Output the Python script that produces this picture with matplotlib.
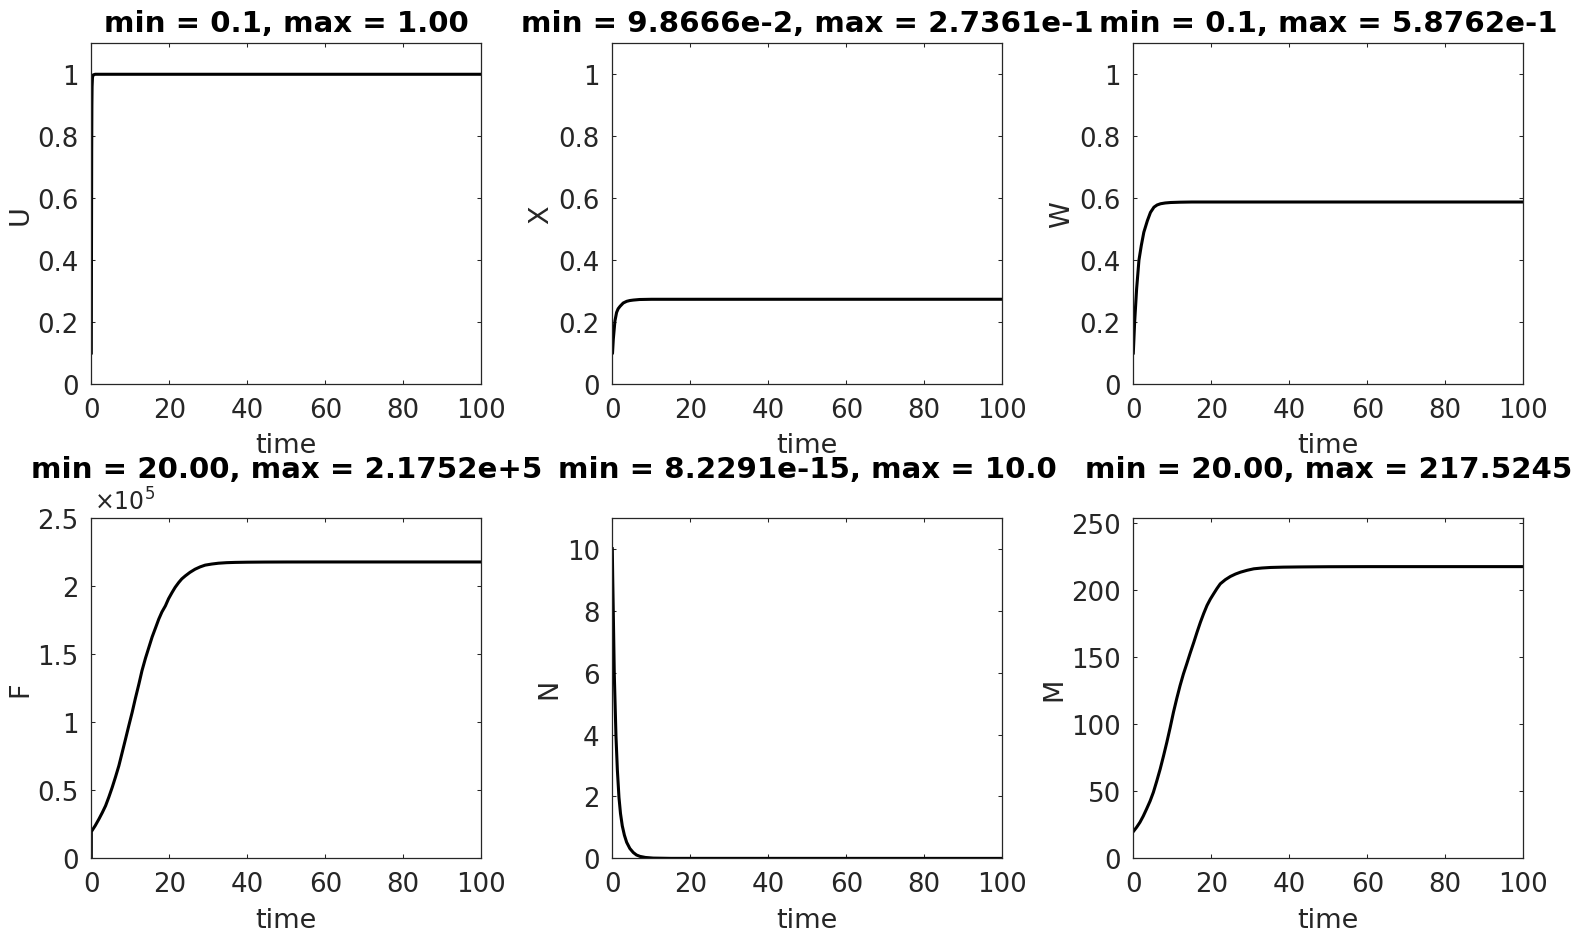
import matplotlib
matplotlib.use("Agg")
import matplotlib.pyplot as plt
from matplotlib.ticker import FuncFormatter, MultipleLocator

plt.rcParams['font.family'] = ['DejaVu Sans']
plt.rcParams['mathtext.fontset'] = 'dejavusans'

# ---------------- data ----------------
t_U = [0, 0.05, 0.1, 0.15, 0.2, 0.3, 0.5, 1, 100]
U = [0.1, 0.45, 0.75, 0.9, 0.96, 0.99, 0.998, 1.0, 1.0]

t_X = [0, 0.05, 0.26, 0.68, 1.1, 1.5, 2.0, 2.8, 3.7, 4.5, 5.4, 7, 10, 100]
X = [0.1, 0.0987, 0.145, 0.204, 0.231, 0.243, 0.251, 0.2615, 0.267, 0.2695,
     0.271, 0.2728, 0.2735, 0.2736]

t_W = [0, 0.34, 0.85, 1.45, 2.05, 2.7, 3.6, 4.4, 5.3, 6.1, 7.0, 8.2, 9.6, 12, 15, 100]
W = [0.1, 0.199, 0.307, 0.400, 0.447, 0.49, 0.527, 0.554, 0.571, 0.578, 0.582,
     0.5845, 0.586, 0.587, 0.5876, 0.5876]

t_F = [0, 0.01, 1.0, 1.96, 2.8, 3.66, 4.5, 5.36, 6.2, 7.07, 7.9, 8.77, 9.6, 10.47,
       11.3, 12.2, 13.0, 13.9, 14.8, 15.6, 16.5, 17.3, 18.1, 19.0, 19.8, 20.7,
       21.5, 22.4, 23.2, 24.1, 25.3, 26.6, 27.9, 29.2, 30.9, 32.6, 34.7, 36.9,
       40.0, 44.5, 50, 60, 100]
F = [20, 19600, 24000, 28900, 33500, 38600, 45000, 52100, 59700, 68000, 77500,
     87500, 97200, 107100, 117400, 127900, 137800, 147000, 155200, 162500,
     169400, 175600, 180800, 185300, 190500, 195100, 198900, 202400, 205100,
     207300, 209900, 212200, 213900, 215200, 216000, 216600, 217000, 217200,
     217350, 217450, 217500, 217520, 217520]

t_N = [0, 0.1, 0.26, 0.51, 0.94, 1.3, 1.71, 2.1, 2.56, 3.1, 3.68, 4.5, 5.38, 6.2,
       7.1, 8.5, 10.5, 15, 100]
N = [10, 9.1, 7.9, 5.95, 3.95, 2.85, 1.97, 1.45, 1.05, 0.75, 0.52, 0.32, 0.19,
     0.11, 0.065, 0.03, 0.01, 0.001, 8.2291e-15]

t_M = [0, 0.85, 1.7, 2.55, 3.4, 4.3, 5.15, 6.0, 6.9, 7.75, 8.6, 9.45, 10.3, 11.15,
       12.0, 12.85, 13.7, 14.6, 15.5, 16.35, 17.2, 18.05, 18.9, 19.75, 20.6,
       21.45, 22.3, 23.6, 24.9, 26.2, 27.5, 29.2, 30.9, 33.0, 35.2, 38.5, 42.9,
       50, 60, 100]
M = [20, 23.2, 26.9, 31.5, 36.8, 42.7, 49.3, 57.5, 66.7, 76.4, 86.6, 97.5, 109,
     119.3, 128.9, 137.5, 145, 153.2, 161, 168.7, 176, 182.6, 188.6, 193.3,
     197.3, 201.2, 204.7, 207.8, 210.2, 212.0, 213.4, 214.8, 215.9, 216.5,
     216.9, 217.15, 217.3, 217.45, 217.52, 217.5245]

labels = ['U', 'X', 'W', 'F', 'N', 'M']
titles = ['min = 0.1, max = 1.00',
          'min = 9.8666e-2, max = 2.7361e-1',
          'min = 0.1, max = 5.8762e-1',
          'min = 20.00, max = 2.1752e+5',
          'min = 8.2291e-15, max = 10.0',
          'min = 20.00, max = 217.5245']
series = [(t_U, U), (t_X, X), (t_W, W), (t_F, F), (t_N, N), (t_M, M)]
ylims = [(0, 1.1), (0, 1.1), (0, 1.1), (0, 2.5e5), (0, 11), (0, 254)]
ysteps = [0.2, 0.2, 0.2, 0.5e5, 2, 50]
xticks = [0, 20, 40, 60, 80, 100]

# ---------------- figure ----------------
W_PX, H_PX = 1577, 937
fig = plt.figure(figsize=(W_PX / 100, H_PX / 100), dpi=100)

lefts = [91.3, 612.3, 1133.3]
tops = [44.3, 518.7]
aw, ah = 390.0, 340.7
GRAY = '#262626'
title_pads = [9, 29.5]

for i in range(6):
    r, c = divmod(i, 3)
    ax = fig.add_axes([lefts[c] / W_PX, 1 - (tops[r] + ah) / H_PX, aw / W_PX, ah / H_PX])
    t, y = series[i]
    ax.plot(t, y, color='black', lw=2.2, solid_joinstyle='round')
    ax.set_xlim(0, 100)
    ax.set_ylim(*ylims[i])
    ax.set_xticks(xticks)
    ax.yaxis.set_major_locator(MultipleLocator(ysteps[i]))
    if i == 3:
        ax.yaxis.set_major_formatter(FuncFormatter(lambda v, p: f'{v / 1e5:g}'))
        ax.text(0.008, 1.024, r'$\times10^{5}$', transform=ax.transAxes,
                ha='left', va='baseline', fontsize=17, color=GRAY)
    else:
        ax.yaxis.set_major_formatter(FuncFormatter(lambda v, p: f'{v:g}'))
    ax.xaxis.set_major_formatter(FuncFormatter(lambda v, p: f'{v:g}'))
    ax.tick_params(direction='in', length=3, width=0.75, colors=GRAY,
                   labelsize=18.7, top=True, right=True, pad=9)
    for s in ax.spines.values():
        s.set_color(GRAY)
        s.set_linewidth(0.9)
    ax.set_xlabel('time', fontsize=19.5, color=GRAY, labelpad=7)
    ax.set_ylabel(labels[i], fontsize=19.5, color=GRAY, labelpad=3)
    ax.set_title(titles[i], fontsize=21.1, fontweight='bold', color='black',
                 pad=title_pads[r])

fig.savefig('out.png', dpi=100, facecolor='white')
